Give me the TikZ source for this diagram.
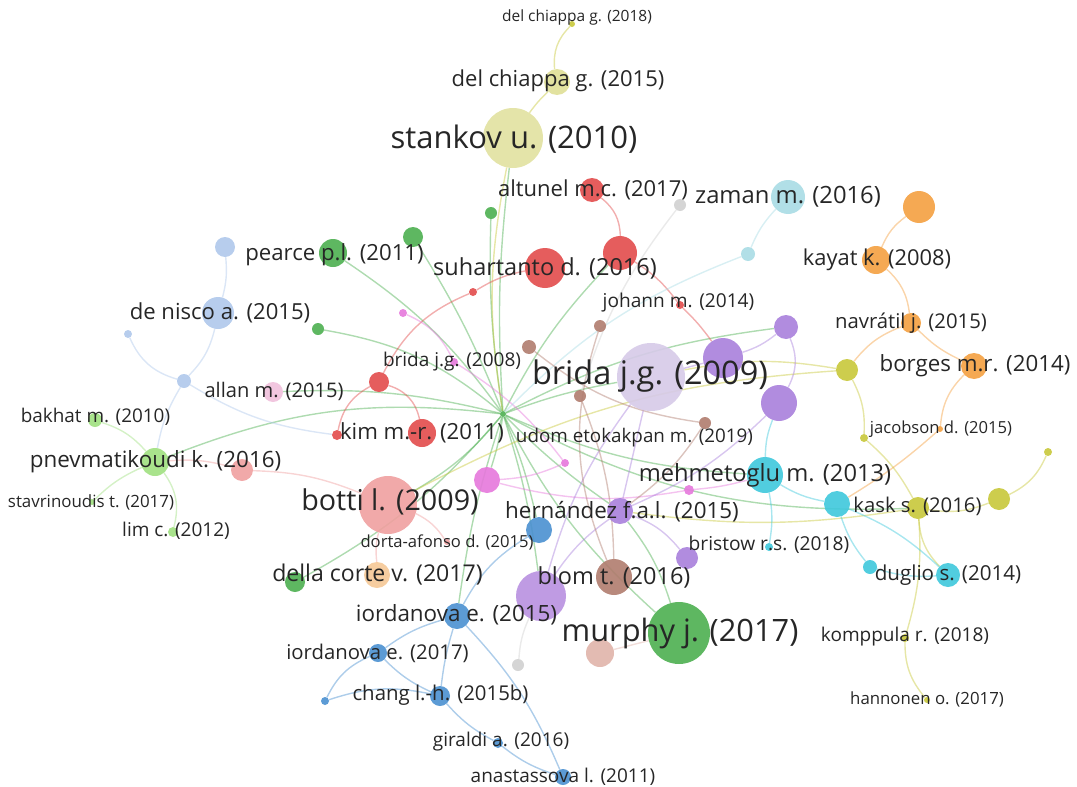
\documentclass[tikz,border=0pt]{standalone}
\usepackage{fontspec}
\setmainfont{Open Sans}
\usepackage{xcolor}

\pgfdeclarelayer{background}
\pgfsetlayers{background,main}

\definecolor{vred}{HTML}{E24B4B}
\definecolor{vgreen}{HTML}{4CAF50}
\definecolor{vblue}{HTML}{4A90D0}
\definecolor{volive}{HTML}{C8C83A}
\definecolor{vpurple}{HTML}{A880DC}
\definecolor{vcyan}{HTML}{3EC8DC}
\definecolor{vorange}{HTML}{F4A040}
\definecolor{vbrown}{HTML}{B07C6E}
\definecolor{vpink}{HTML}{E678DC}
\definecolor{vgrey}{HTML}{D0D0D0}
\definecolor{vlblue}{HTML}{AFC8EB}
\definecolor{vlgreen}{HTML}{A0E080}
\definecolor{vlyellow}{HTML}{E1E1A0}
\definecolor{vlpurple}{HTML}{D6CAE8}
\definecolor{vsalmon}{HTML}{F0A0A0}
\definecolor{vlcyan}{HTML}{A8DCE4}
\definecolor{vlorange}{HTML}{F5C896}
\definecolor{vlpink}{HTML}{F0C0DC}
\definecolor{vpbrown}{HTML}{E0B4AA}
\definecolor{vbpurple}{HTML}{B890E0}

\tikzset{
  bub/.style 2 args={circle, fill=#1, fill opacity=.9, inner sep=0pt, minimum size=#2},
  lbl/.style={font=\fontsize{#1}{#1}\selectfont, text=black!85, inner sep=0pt},
  link/.style={draw=#1, opacity=.45, line width=1.4pt},
}

\begin{document}
\begin{tikzpicture}[x=1pt,y=-1pt]
\useasboundingbox (0,0) rectangle (1077,787);

% circles (items)
\node[bub={volive}{6}]     (dch18)  at (572,24)  {};
\node[bub={vlyellow!90!volive}{26}] (dch15) at (557,82) {};
\node[bub={vlyellow}{60}]  (stankov) at (513,138) {};
\node[bub={vred}{24}]      (altunel) at (592,190) {};
\node[bub={vlcyan}{34}]    (zaman)  at (788,197) {};
\node[bub={vorange}{32}]   (o919)   at (919,207) {};
\node[bub={vorange}{28}]   (kayat)  at (876,260) {};
\node[bub={vgreen}{28}]    (pearce) at (333,253) {};
\node[bub={vlblue}{20}]    (lb225)  at (225,247) {};
\node[bub={vgreen}{20}]    (g413)   at (413,237) {};
\node[bub={vgreen}{12}]    (g491)   at (491,213) {};
\node[bub={vred}{40}]      (suhartanto) at (545,268) {};
\node[bub={vred}{34}]      (r619)   at (620,253) {};
\node[bub={vlcyan}{14}]    (lc748)  at (748,254) {};
\node[bub={vgrey}{12}]     (gr679)  at (680,205) {};
\node[bub={vlblue}{32}]    (denisco) at (218,313) {};
\node[bub={vlblue}{8}]     (lb124)  at (128,334) {};
\node[bub={vgreen}{12}]    (g318)   at (318,329) {};
\node[bub={vred}{8}]       (r472)   at (473,292) {};
\node[bub={vpink}{8}]      (pk402)  at (403,313) {};
\node[bub={vred}{8}]       (johann) at (680,305) {};
\node[bub={vbrown}{12}]    (b600)   at (600,326) {};
\node[bub={vpurple}{24}]   (p786)   at (786,327) {};
\node[bub={vorange}{20}]   (navratil) at (911,323) {};
\node[bub={vpink}{8}]      (brida08) at (454,362) {};
\node[bub={vbrown}{14}]    (b529)   at (529,347) {};
\node[bub={vlpurple}{68}]  (brida09) at (651,377) {};
\node[bub={vpurple}{40}]   (p722)   at (723,358) {};
\node[bub={volive}{22}]    (y847)   at (847,370) {};
\node[bub={vorange}{26}]   (borges) at (974,366) {};
\node[bub={vlblue}{14}]    (lb184)  at (184,381) {};
\node[bub={vlpink}{20}]    (allan)  at (273,392) {};
\node[bub={vred}{20}]      (r379)   at (379,382) {};
\node[bub={vbrown}{12}]    (b580)   at (580,396) {};
\node[bub={vpurple}{36}]   (p778)   at (779,403) {};
\node[bub={vbrown}{12}]    (b706)   at (705,423) {};
\node[bub={vlgreen}{14}]   (bakhat) at (95,420) {};
\node[bub={vred}{28}]      (kim)    at (422,433) {};
\node[bub={vred}{10}]      (r337)   at (337,435) {};
\node[bub={volive}{8}]     (y864)   at (864,438) {};
\node[bub={vorange}{6}]    (jacobson) at (940,429) {};
\node[bub={volive}{8}]     (y1048)  at (1048,452) {};
\node[bub={vlgreen}{28}]   (pnev)   at (155,462) {};
\node[bub={vsalmon}{22}]   (s242)   at (242,470) {};
\node[bub={vpink}{8}]      (pk565)  at (565,463) {};
\node[bub={vpink}{26}]     (pk487)  at (487,480) {};
\node[bub={vcyan}{36}]     (mehmet) at (765,475) {};
\node[bub={vpink}{10}]     (pk689)  at (689,490) {};
\node[bub={vlgreen}{6}]    (stav)   at (92,502) {};
\node[bub={vsalmon}{58}]   (botti)  at (388,505) {};
\node[bub={vcyan}{26}]     (kaskc)  at (837,504) {};
\node[bub={volive}{22}]    (kasky)  at (918,508) {};
\node[bub={volive}{22}]    (y999)   at (999,499) {};
\node[bub={vpurple}{26}]   (hernandez) at (620,511) {};
\node[bub={vblue}{26}]     (bl539)  at (539,530) {};
\node[bub={vlgreen}{10}]   (lim)    at (173,532) {};
\node[bub={vsalmon}{6}]    (dorta)  at (447,542) {};
\node[bub={vcyan}{8}]      (bristow) at (769,547) {};
\node[bub={vpurple}{22}]   (p687)   at (687,558) {};
\node[bub={vgreen}{20}]    (dellag) at (295,582) {};
\node[bub={vlorange}{26}]  (dellao) at (377,575) {};
\node[bub={vbpurple}{50}]  (blomp)  at (541,596) {};
\node[bub={vbrown}{36}]    (blomb)  at (614,577) {};
\node[bub={vcyan}{14}]     (c870)   at (870,567) {};
\node[bub={vcyan}{24}]     (duglio) at (948,575) {};
\node[bub={vblue}{26}]     (iord15) at (457,616) {};
\node[bub={vgreen}{62}]    (murphy) at (679,633) {};
\node[bub={vpbrown}{28}]   (pb600)  at (600,653) {};
\node[bub={volive}{8}]     (komppula) at (905,638) {};
\node[bub={vblue}{18}]     (iord17) at (378,653) {};
\node[bub={vgrey}{12}]     (gr518)  at (518,665) {};
\node[bub={vblue}{20}]     (chang)  at (440,696) {};
\node[bub={vblue}{8}]      (bl325)  at (325,701) {};
\node[bub={volive}{6}]     (hannonen) at (927,700) {};
\node[bub={vblue}{10}]     (giraldi) at (498,743) {};
\node[bub={vblue}{16}]     (anast)  at (563,777) {};
\node[bub={vgreen}{6}]     (hub)    at (503,414) {};

% links
\begin{pgfonlayer}{background}
\foreach \t/\b in {stankov/5, g491/5, g413/-5, pearce/-10, g318/-15, pnev/-14,
  allan/-8, botti/10, dellag/10, bl539/5, murphy/-10, hernandez/-5, mehmet/-10,
  kasky/-15, brida09/5, p786/10, r619/8, blomp/5, iord15/-5, pk487/5}
  \draw[link=vgreen] (hub) to[bend left=\b] (\t);
\draw[link=volive] (stankov) to[bend left=5] (dch15);
\draw[link=volive] (dch15) to[bend left=25] (dch18);
\draw[link=volive] (stankov) to[bend right=10] (hub);
\draw[link=volive] (y847) to[bend right=10] (brida09);
\draw[link=volive] (y847) to[bend right=12] (botti);
\draw[link=volive] (y847) to[bend left=15] (y864);
\draw[link=volive] (y864) to[bend left=10] (kasky);
\draw[link=volive] (kasky) to[bend left=10] (komppula);
\draw[link=volive] (komppula) to[bend right=20] (hannonen);
\draw[link=volive] (kasky) to[bend right=15] (y999);
\draw[link=volive] (y999) to[bend right=20] (y1048);
\draw[link=volive] (kasky) to[bend left=8] (hernandez);
\draw[link=volive] (kasky) to[bend right=20] (duglio);
\draw[link=vorange] (o919) to[bend right=15] (kayat);
\draw[link=vorange] (kayat) to[bend left=20] (navratil);
\draw[link=vorange] (navratil) to[bend right=10] (borges);
\draw[link=vorange] (navratil) to[bend right=15] (y847);
\draw[link=vorange] (borges) to[bend right=20] (jacobson);
\draw[link=vorange] (jacobson) to[bend left=5] (kaskc);
\draw[link=vred] (altunel) to[bend left=25] (r619);
\draw[link=vred] (r619) to[bend left=10] (johann);
\draw[link=vred] (johann) to[bend left=5] (p722);
\draw[link=vred] (suhartanto) to[bend right=10] (r472);
\draw[link=vred] (r472) to[bend right=20] (r379);
\draw[link=vred] (r379) to[bend left=30] (kim);
\draw[link=vred] (r379) to[bend right=25] (r337);
\draw[link=vlblue] (lb225) to[bend left=10] (denisco);
\draw[link=vlblue] (denisco) to[bend left=15] (lb184);
\draw[link=vlblue] (lb184) to[bend left=25] (lb124);
\draw[link=vlblue] (lb184) to[bend right=10] (pnev);
\draw[link=vlblue] (lb184) to[bend right=12] (r337);
\draw[link=vlgreen] (bakhat) to[bend left=15] (pnev);
\draw[link=vlgreen] (pnev) to[bend left=25] (lim);
\draw[link=vlgreen] (pnev) to[bend right=10] (stav);
\draw[link=vsalmon] (pnev) to[bend left=10] (s242);
\draw[link=vsalmon] (s242) to[bend left=10] (botti);
\draw[link=vsalmon] (botti) to[bend left=15] (dorta);
\draw[link=vsalmon] (botti) to[bend right=10] (dellao);
\draw[link=vpink] (pk402) to[bend left=20] (brida08);
\draw[link=vpink] (brida08) to[bend left=10] (pk565);
\draw[link=vpink] (pk565) to[bend left=10] (pk487);
\draw[link=vpink] (pk487) to[bend right=12] (pk689);
\draw[link=vpink] (pk689) to[bend right=5] (mehmet);
\draw[link=vlcyan] (zaman) to[bend right=10] (lc748);
\draw[link=vlcyan] (lc748) to[bend right=12] (hub);
\draw[link=vcyan] (mehmet) to[bend right=10] (kaskc);
\draw[link=vcyan] (mehmet) to[bend left=10] (bristow);
\draw[link=vcyan] (mehmet) to[bend left=10] (p778);
\draw[link=vcyan] (kaskc) to[bend right=10] (c870);
\draw[link=vcyan] (c870) to[bend right=10] (duglio);
\draw[link=vcyan] (kaskc) to[bend left=10] (duglio);
\draw[link=vpurple] (p786) to[bend left=10] (p722);
\draw[link=vpurple] (p786) to[bend left=25] (p778);
\draw[link=vpurple] (p722) to (brida09);
\draw[link=vpurple] (p778) to[bend left=10] (hernandez);
\draw[link=vpurple] (brida09) to (hernandez);
\draw[link=vpurple] (hernandez) to[bend left=15] (p687);
\draw[link=vpurple] (hernandez) to[bend right=10] (blomp);
\draw[link=vpurple] (brida09) to[bend right=10] (blomp);
\draw[link=vbrown] (b600) to[bend right=20] (blomb);
\draw[link=vbrown] (b529) to[bend right=15] (b706);
\draw[link=vbrown] (b580) to[bend left=10] (blomb);
\draw[link=vbrown] (b706) to[bend left=10] (hernandez);
\draw[link=vgrey] (gr679) to[bend right=10] (b580);
\draw[link=vgrey] (gr518) to[bend left=10] (blomp);
\draw[link=vblue] (bl539) to[bend right=15] (iord15);
\draw[link=vblue] (iord15) to[bend right=10] (iord17);
\draw[link=vblue] (iord17) to[bend right=10] (chang);
\draw[link=vblue] (iord17) to[bend right=20] (bl325);
\draw[link=vblue] (chang) to[bend right=15] (bl325);
\draw[link=vblue] (chang) to[bend right=10] (giraldi);
\draw[link=vblue] (giraldi) to[bend right=10] (anast);
\draw[link=vblue] (iord15) to[bend left=10] (anast);
\draw[link=vblue] (iord15) to[bend right=5] (chang);
\draw[link=vgreen] (hernandez) to[bend left=10] (murphy);
\draw[link=vpbrown] (murphy) to (pb600);
\end{pgfonlayer}

% labels
\node[lbl=15.5] (t-dch18)  at (577,17)  {del chiappa g. (2018)};
\node[lbl=22]   (t-dch15)  at (558,81)  {del chiappa g. (2015)};
\node[lbl=31]   (t-stankov) at (514,139) {stankov u. (2010)};
\node[lbl=22]   (t-altunel) at (593,190) {altunel m.c. (2017)};
\node[lbl=23.8] (t-zaman)  at (788,197) {zaman m. (2016)};
\node[lbl=21.9] (t-kayat)  at (877,260) {kayat k. (2008)};
\node[lbl=22.2] (t-pearce) at (334.5,255) {pearce p.l. (2011)};
\node[lbl=23.5] (t-suhartanto) at (545,268) {suhartanto d. (2016)};
\node[lbl=22.1] (t-denisco) at (220,313) {de nisco a. (2015)};
\node[lbl=19.1] (t-johann) at (678.5,303) {johann m. (2014)};
\node[lbl=20.3] (t-navratil) at (911,323) {navrátil j. (2015)};
\node[lbl=19]   (t-brida08) at (452,362) {brida j.g. (2008)};
\node[lbl=32.5] (t-brida09) at (650,376) {brida j.g. (2009)};
\node[lbl=22.3] (t-borges) at (975,366) {borges m.r. (2014)};
\node[lbl=20.1] (t-allan)  at (274,391) {allan m. (2015)};
\node[lbl=18.9] (t-bakhat) at (95.5,417) {bakhat m. (2010)};
\node[lbl=22.2] (t-kim)    at (422,433) {kim m.-r. (2011)};
\node[lbl=16.6] (t-jacobson) at (941,429) {jacobson d. (2015)};
\node[lbl=18.8] (t-udom)   at (634.5,438) {udom etokakpan m. (2019)};
\node[lbl=22.4] (t-pnev)   at (155.5,462) {pnevmatikoudi k. (2016)};
\node[lbl=23.7] (t-mehmet) at (765,475) {mehmetoglu m. (2013)};
\node[lbl=16.9] (t-stav)   at (91,502)  {stavrinoudis t. (2017)};
\node[lbl=28.7] (t-botti)  at (390,502) {botti l. (2009)};
\node[lbl=20.3] (t-kask)   at (917.5,506) {kask s. (2016)};
\node[lbl=22.4] (t-hernandez) at (622,512) {hernández f.a.l. (2015)};
\node[lbl=19]   (t-lim)    at (176,531) {lim c. (2012)};
\node[lbl=16.6] (t-dorta)  at (447,542) {dorta-afonso d. (2015)};
\node[lbl=19.2] (t-bristow) at (769,545) {bristow r.s. (2018)};
\node[lbl=23.1] (t-della)  at (377.5,575) {della corte v. (2017)};
\node[lbl=23.5] (t-blom)   at (614,577) {blom t. (2016)};
\node[lbl=20.6] (t-duglio) at (948,575) {duglio s. (2014)};
\node[lbl=22.4] (t-iord15) at (456.5,615) {iordanova e. (2015)};
\node[lbl=30.8] (t-murphy) at (680,633) {murphy j. (2017)};
\node[lbl=19]   (t-komppula) at (905,637) {komppula r. (2018)};
\node[lbl=20.3] (t-iord17) at (377.5,653) {iordanova e. (2017)};
\node[lbl=20.4] (t-chang)  at (440.5,695) {chang l.-h. (2015b)};
\node[lbl=16.8] (t-hannonen) at (927,699) {hannonen o. (2017)};
\node[lbl=19]   (t-giraldi) at (501,742) {giraldi a. (2016)};
\node[lbl=19]   (t-anast)  at (563,777) {anastassova l. (2011)};

\end{tikzpicture}
\end{document}
